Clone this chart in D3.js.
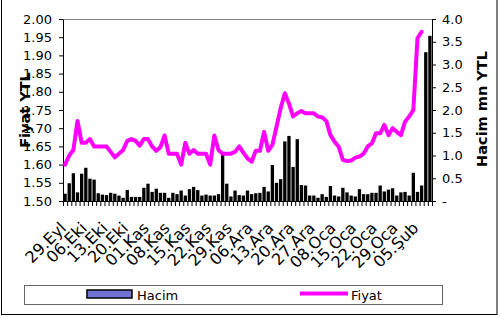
<!DOCTYPE html>
<html>
<head>
<meta charset="utf-8">
<script src="https://cdnjs.cloudflare.com/ajax/libs/d3/7.8.5/d3.min.js"></script>
<style>
body { margin: 0; background: #fff; }
svg text { font-family: "DejaVu Sans", sans-serif; fill: #000; }
</style>
</head>
<body>
<script>

// weekly labels, one every 5 trading days
const tickLabels = ["29.Eyl","06.Eki","13.Eki","20.Eki","01.Kas","08.Kas","15.Kas","22.Kas","29.Kas",
    "06.Ara","13.Ara","20.Ara","27.Ara","08.Oca","15.Oca","22.Oca","29.Oca","05.Şub"];

// Hacim, mn YTL (right axis)
const hacim = [0.16,0.39,0.61,0.19,0.60,0.73,0.49,0.47,0.17,0.14,
    0.13,0.18,0.16,0.12,0.07,0.24,0.09,0.09,0.09,0.29,
    0.38,0.20,0.27,0.18,0.18,0.07,0.18,0.15,0.23,0.12,
    0.26,0.31,0.24,0.12,0.14,0.12,0.12,0.15,1.01,0.38,
    0.10,0.23,0.13,0.12,0.23,0.15,0.17,0.18,0.31,0.21,
    0.79,0.40,0.48,1.31,1.43,0.75,1.36,0.35,0.34,0.12,
    0.12,0.07,0.15,0.09,0.33,0.12,0.10,0.29,0.19,0.12,
    0.10,0.26,0.15,0.15,0.18,0.18,0.34,0.21,0.25,0.28,
    0.12,0.19,0.20,0.12,0.62,0.20,0.34,3.27,3.63];

// Fiyat, YTL (left axis)
const fiyat = [1.60,1.625,1.64,1.72,1.66,1.66,1.67,1.65,1.65,1.65,
    1.65,1.635,1.62,1.63,1.64,1.665,1.67,1.665,1.652,1.67,
    1.67,1.65,1.638,1.648,1.68,1.63,1.63,1.63,1.60,1.66,
    1.63,1.64,1.63,1.63,1.63,1.60,1.68,1.64,1.63,1.63,
    1.63,1.635,1.65,1.633,1.617,1.608,1.638,1.638,1.69,1.638,
    1.654,1.704,1.755,1.796,1.768,1.732,1.741,1.747,1.741,1.741,
    1.741,1.732,1.73,1.72,1.681,1.663,1.649,1.613,1.61,1.611,
    1.619,1.622,1.63,1.65,1.658,1.686,1.686,1.709,1.681,1.70,
    1.69,1.681,1.718,1.732,1.75,1.947,1.965];

const w = 500;
const h = 318;
const margin = {top: 19, right: 68, bottom: 117, left: 63};
const width = w - margin.left - margin.right,
    height = h - margin.top - margin.bottom;

const svg = d3.select("body").append("svg")
    .attr("width", w)
    .attr("height", h);

// outer frame
svg.append("rect")
    .attr("x", 1.5).attr("y", -1)
    .attr("width", 495.5).attr("height", 315.5)
    .attr("fill", "#fff")
    .attr("stroke", "#000");

const g = svg.append("g")
    .attr("transform", "translate(" + margin.left + "," + margin.top + ")");

const days = d3.range(hacim.length);

const xScale = d3.scaleBand()
    .domain(days)
    .range([0, width]);
const bw = xScale.bandwidth();

const xEdge = d3.scaleLinear()
    .domain([0, days.length])
    .range([0, width]);

const yLeft = d3.scaleLinear()
    .domain([1.5, 2.0])
    .range([height, 0]);

const yRight = d3.scaleLinear()
    .domain([0, 4])
    .range([height, 0]);

// plot area top border
g.append("line")
    .attr("x1", 0).attr("x2", width)
    .attr("y1", 0.5).attr("y2", 0.5)
    .attr("stroke", "#888");

// bars
g.selectAll("rect.bar")
    .data(hacim)
    .enter()
    .append("rect")
    .attr("class", "bar")
    .attr("x", (d, i) => xScale(i) + bw * 0.1)
    .attr("width", bw * 0.8)
    .attr("y", d => yRight(d))
    .attr("height", d => yRight(0) - yRight(d))
    .attr("fill", "#000");

// axes
const leftAxis = g.append("g")
    .call(d3.axisLeft(yLeft)
        .tickValues(d3.range(0, 11).map(k => 1.5 + k * 0.05))
        .tickFormat(d3.format(".2f"))
        .tickSize(4).tickSizeOuter(0).tickPadding(7));

const rightAxis = g.append("g")
    .attr("transform", "translate(" + width + ",0)")
    .call(d3.axisRight(yRight)
        .tickValues(d3.range(0, 9).map(k => k * 0.5))
        .tickFormat(d => d === 0 ? "-" : d3.format(".1f")(d))
        .tickSize(4).tickSizeOuter(0).tickPadding(6));

const bottomAxis = g.append("g")
    .attr("transform", "translate(0," + height + ")")
    .call(d3.axisBottom(xEdge)
        .tickValues(d3.range(days.length + 1))
        .tickFormat("")
        .tickSize(5).tickSizeOuter(0));

[leftAxis, rightAxis, bottomAxis].forEach(a => {
    a.selectAll("path, line").attr("stroke", "#000");
    a.selectAll("text").style("font-size", "13px").attr("fill", "#000");
});

// rotated date labels
g.selectAll("text.xlab")
    .data(tickLabels)
    .enter()
    .append("text")
    .attr("class", "xlab")
    .attr("text-anchor", "end")
    .style("font-size", "16px")
    .attr("transform", (d, i) => "translate(" + (xScale(i * 5) + bw / 2 + 2) + "," + (height + 28) + ") rotate(-45)")
    .text(d => d);

// price line
const line = d3.line()
    .x((d, i) => xScale(i) + bw / 2)
    .y(d => yLeft(d));

g.append("path")
    .datum(fiyat)
    .attr("d", line)
    .attr("fill", "none")
    .attr("stroke", "#ff00ff")
    .attr("stroke-width", 4)
    .attr("stroke-linejoin", "round")
    .attr("stroke-linecap", "round");

// axis titles
svg.append("text")
    .attr("transform", "translate(30,110) rotate(-90)")
    .attr("text-anchor", "middle")
    .style("font-size", "14.5px")
    .style("font-weight", "bold")
    .text("Fiyat YTL");

svg.append("text")
    .attr("transform", "translate(487,109) rotate(-90)")
    .attr("text-anchor", "middle")
    .style("font-size", "14.5px")
    .style("font-weight", "bold")
    .text("Hacim mn YTL");

// legend
const legend = svg.append("g");
legend.append("rect")
    .attr("x", 24.5).attr("y", 285.5)
    .attr("width", 418).attr("height", 19)
    .attr("fill", "#fff")
    .attr("stroke", "#666");
legend.append("rect")
    .attr("x", 87).attr("y", 290)
    .attr("width", 45).attr("height", 8)
    .attr("fill", "#7373d3")
    .attr("stroke", "#000")
    .attr("stroke-width", 1.5);
legend.append("text")
    .attr("x", 137).attr("y", 299.5)
    .style("font-size", "13px")
    .text("Hacim");
legend.append("line")
    .attr("x1", 300).attr("x2", 348)
    .attr("y1", 293.5).attr("y2", 293.5)
    .attr("stroke", "#ff00ff")
    .attr("stroke-width", 4);
legend.append("text")
    .attr("x", 351).attr("y", 299.5)
    .style("font-size", "13px")
    .text("Fiyat");

</script>
</body>
</html>
